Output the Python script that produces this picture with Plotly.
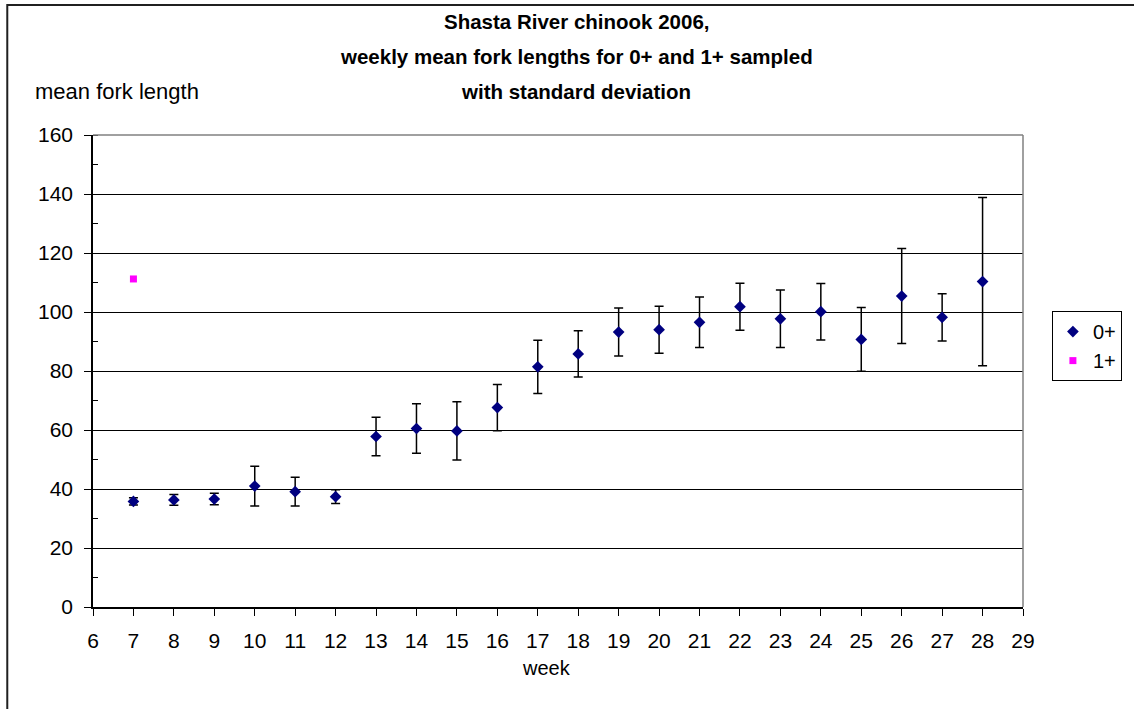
import plotly.graph_objects as go

weeks = [7, 8, 9, 10, 11, 12, 13, 14, 15, 16, 17, 18, 19, 20, 21, 22, 23, 24, 25, 26, 27, 28]
mean_0 = [35.8, 36.3, 36.6, 41.0, 39.1, 37.4, 57.8, 60.5, 59.7, 67.6, 81.4, 85.8,
          93.2, 94.0, 96.5, 101.8, 97.7, 100.1, 90.7, 105.4, 98.2, 110.3]
sd_0 = [1.25, 1.85, 1.95, 6.75, 4.9, 2.35, 6.55, 8.4, 9.85, 7.85, 9.05, 7.85,
        8.15, 7.95, 8.55, 7.95, 9.75, 9.55, 10.8, 16.1, 8.0, 28.5]
weeks_1 = [7]
mean_1 = [111.2]

title_lines = ["Shasta River chinook 2006,",
               "weekly mean fork lengths for 0+ and 1+ sampled",
               "with standard deviation"]

FONT = "Liberation Sans, Arial, sans-serif"

L, R, T, B = 93, 1026, 135, 606.7
PW, PH = R - L, B - T


def px(xp):
    return (xp - L) / PW


def py(yp):
    return (B - yp) / PH


fig = go.Figure()
fig.add_trace(go.Scatter(
    x=weeks, y=mean_0, mode="markers", name="0+",
    marker=dict(symbol="diamond", size=9, color="#000080"),
    error_y=dict(type="data", array=sd_0, visible=True, color="#000000",
                 thickness=1.5, width=4.5),
))
fig.add_trace(go.Scatter(
    x=weeks_1, y=mean_1, mode="markers", name="1+",
    marker=dict(symbol="square", size=7, color="#FF00FF"),
))

annotations = []
for text, yp in zip(title_lines, [22, 57, 92]):
    annotations.append(dict(
        text="<b>" + text + "</b>", xref="paper", yref="paper",
        x=px(578), y=py(yp), xanchor="center", yanchor="middle",
        showarrow=False, font=dict(family=FONT, size=20.5, color="black")))
annotations.append(dict(
    text="mean fork length", xref="paper", yref="paper",
    x=px(33), y=py(92), xanchor="left", yanchor="middle",
    showarrow=False, font=dict(family=FONT, size=22, color="black")))
annotations.append(dict(
    text="week", xref="paper", yref="paper",
    x=px(548), y=py(668), xanchor="center", yanchor="middle",
    showarrow=False, font=dict(family=FONT, size=20, color="black")))

fig.update_layout(
    width=1134, height=709,
    margin=dict(l=93, r=108, t=135, b=102),
    paper_bgcolor="white", plot_bgcolor="white",
    font=dict(family=FONT, size=20, color="black"),
    showlegend=True,
    legend=dict(
        x=px(1055), xanchor="left", y=py(311), yanchor="top",
        bgcolor="white", bordercolor="black", borderwidth=1,
        font=dict(family=FONT, size=20, color="black"),
        itemwidth=30, tracegroupgap=0,
    ),
    xaxis=dict(
        range=[6, 29], tickmode="linear", tick0=6, dtick=1,
        showgrid=False, zeroline=False,
        showline=True, linecolor="black", linewidth=1.5,
        ticks="outside", ticklen=7, tickcolor="black",
        ticklabelstandoff=7,
        tickfont=dict(family=FONT, size=21, color="black"),
    ),
    yaxis=dict(
        range=[0, 160], tickmode="linear", tick0=0, dtick=20,
        showgrid=True, gridcolor="black", gridwidth=1,
        zeroline=False,
        showline=True, linecolor="black", linewidth=1.5,
        ticks="outside", ticklen=7, tickcolor="black",
        ticklabelstandoff=7,
        minor=dict(dtick=10, ticks="inside", ticklen=5, tickcolor="black", showgrid=False),
        tickfont=dict(family=FONT, size=21, color="black"),
    ),
    annotations=annotations,
    shapes=[
        dict(type="line", xref="paper", yref="paper", x0=0, x1=1, y0=1, y1=1,
             line=dict(color="#808080", width=1.5)),
        dict(type="line", xref="paper", yref="paper", x0=1, x1=1, y0=0, y1=1,
             line=dict(color="#808080", width=1.5)),
        dict(type="rect", xref="paper", yref="paper",
             x0=px(7), x1=px(1145), y0=py(720), y1=py(5),
             line=dict(color="#202020", width=2), fillcolor="rgba(0,0,0,0)", layer="below"),
    ],
)

fig.write_html("out.html")
